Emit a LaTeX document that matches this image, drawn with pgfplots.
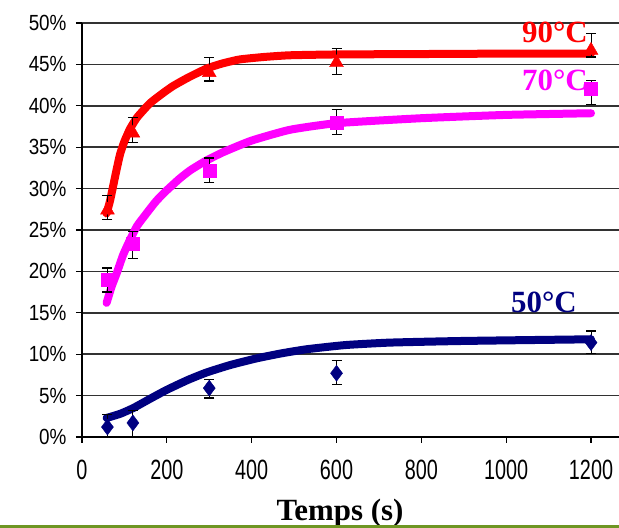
\documentclass[border=0pt]{standalone}
\usepackage{fontspec}
\setmainfont{Liberation Serif}
\newfontfamily\ytickfont[FakeStretch=0.86]{Liberation Sans}
\newfontfamily\xtickfont[FakeStretch=0.71]{Liberation Sans}
\usepackage{pgfplots}
\pgfplotsset{compat=1.18}
\definecolor{navyc}{RGB}{0,0,128}
\definecolor{redc}{RGB}{255,0,0}
\definecolor{magc}{RGB}{255,0,255}
\definecolor{greenline}{RGB}{110,150,35}
\definecolor{gridc}{RGB}{50,50,50}
\begin{document}
\begin{tikzpicture}[x=1bp,y=1bp]
\useasboundingbox (-82,-91) rectangle (537,437);
\begin{axis}[
  scale only axis, width=537bp, height=414bp,
  at={(0,0)}, anchor=south west,
  xmin=0, xmax=1266, ymin=0, ymax=50,
  axis x line*=bottom, axis y line*=left,
  axis line style={black, line width=1.2pt},
  xtick={0,200,400,600,800,1000,1200},
  xticklabels={0,200,400,600,800,1000,1200},
  ytick={0,5,10,15,20,25,30,35,40,45,50},
  yticklabels={0\%,5\%,10\%,15\%,20\%,25\%,30\%,35\%,40\%,45\%,50\%},
  tick align=outside, major tick length=6bp,
  tick style={black, line width=1.2pt},
  ymajorgrids, grid style={gridc, line width=1.5pt},
  yticklabel style={font=\ytickfont\fontsize{22}{22}\selectfont, xshift=-6bp},
  xticklabel style={font=\xtickfont\fontsize{28}{28}\selectfont, yshift=-14bp},
  clip=false,
]
% fitted curves
\addplot[redc, line width=8bp, smooth, tension=0.3, line cap=round] coordinates {
(58,27)(66,28.5)(73,30.2)(82,32.4)(90,34.2)(100,35.7)(113,37.2)(130,38.6)(160,40.3)(190,41.5)(215,42.4)(250,43.4)(294,44.5)(330,45.1)(372,45.6)(430,45.9)(490,46.1)(600,46.2)(800,46.25)(1000,46.3)(1200,46.3)};
\addplot[magc, line width=8bp, smooth, tension=0.3, line cap=round] coordinates {
(58,16.2)(70,18.2)(82,19.8)(97,22)(113,23.8)(130,25.5)(152,27.0)(175,28.5)(200,29.8)(230,31.2)(255,32.2)(290,33.3)(333,34.4)(400,35.8)(490,37.1)(600,37.9)(800,38.5)(1000,38.9)(1200,39.1)};
\addplot[navyc, line width=8bp, smooth, tension=0.3, line cap=round] coordinates {
(58,2.3)(90,2.8)(121,3.5)(160,4.6)(200,5.7)(250,6.9)(294,7.8)(350,8.7)(412,9.5)(470,10.1)(530,10.6)(620,11.1)(726,11.4)(900,11.6)(1200,11.8)};
% measured points
\addplot[only marks, mark=triangle*, mark size=8bp, redc,
  error bars/.cd, y dir=both, y explicit,
  error bar style={black, line width=1pt},
  error mark options={black, rotate=90, mark size=5bp, line width=1.2pt}]
  table[x=x, y=y, y error plus=ep, y error minus=em] {
x y ep em
60 27.4 1.8 1.1
120 36.7 1.9 1.1
300 44.0 1.8 1.0
600 45.2 1.7 1.4
1200 46.7 2.0 0.8
};
\addplot[only marks, mark=square*, mark size=6.5bp, magc,
  error bars/.cd, y dir=both, y explicit,
  error bar style={black, line width=1pt},
  error mark options={black, rotate=90, mark size=5bp, line width=1.2pt}]
  table[x=x, y=y, y error plus=ep, y error minus=em] {
x y ep em
60 19.0 1.4 1.5
120 23.4 1.4 1.8
300 32.2 1.5 1.5
600 38.0 1.6 1.5
1200 42.1 1.0 1.9
};
\addplot[only marks, mark=diamond*, mark size=8bp, navyc,
  error bars/.cd, y dir=both, y explicit,
  error bar style={black, line width=1pt},
  error mark options={black, rotate=90, mark size=5bp, line width=1.2pt}]
  table[x=x, y=y, y error plus=ep, y error minus=em] {
x y ep em
60 1.2 1.5 1.2
120 1.7 1.5 1.7
300 5.9 1.0 1.2
600 7.7 1.5 1.4
1200 11.4 1.4 1.3
};
\node[font=\bfseries\fontsize{31}{31}\selectfont, text=redc] at (axis cs:1115,48.9) {90°C};
\node[font=\bfseries\fontsize{31}{31}\selectfont, text=magc] at (axis cs:1115,43.1) {70°C};
\node[font=\bfseries\fontsize{31}{31}\selectfont, text=navyc] at (axis cs:1089,16.2) {50°C};
\end{axis}
\node[font=\bfseries\fontsize{31}{31}\selectfont] at (258,-76) {Temps (s)};
\draw[greenline, line width=3bp] (-82,-89.5) -- (537,-89.5);
\end{tikzpicture}
\end{document}
